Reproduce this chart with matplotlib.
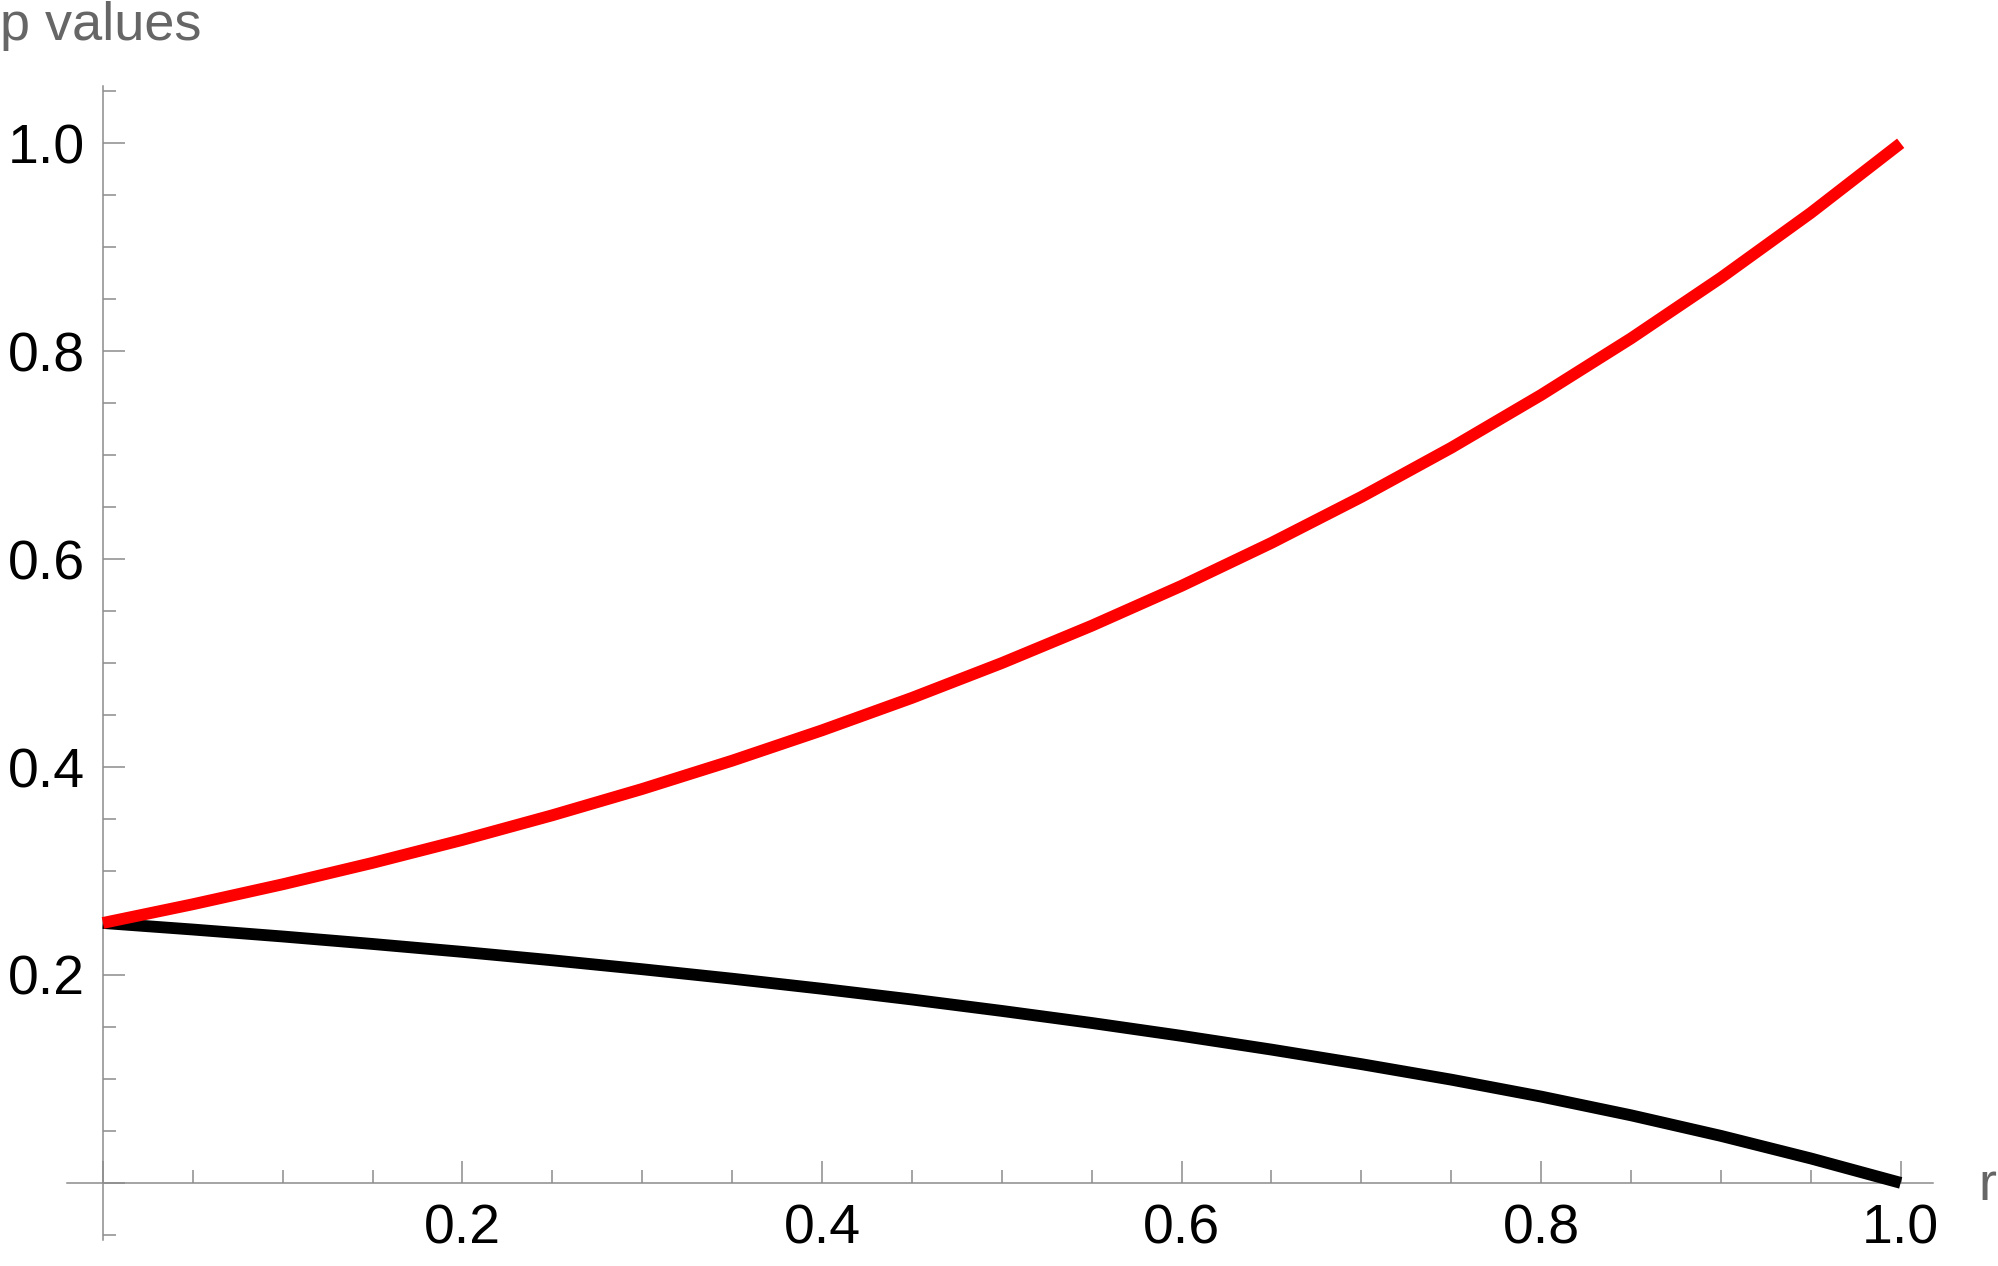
import matplotlib
matplotlib.use('Agg')
import matplotlib.pyplot as plt
from matplotlib.ticker import MultipleLocator, FixedLocator

plt.rcParams['font.family'] = ['Liberation Sans', 'DejaVu Sans']

# values
r_vals = [0.00, 0.05, 0.10, 0.15, 0.20, 0.25, 0.30, 0.35, 0.40, 0.45, 0.50,
          0.55, 0.60, 0.65, 0.70, 0.75, 0.80, 0.85, 0.90, 0.95, 1.00]
p_upper = [0.2500, 0.2680, 0.2872, 0.3078, 0.3299, 0.3536, 0.3789, 0.4061, 0.4353, 0.4665, 0.5000,
           0.5359, 0.5743, 0.6156, 0.6598, 0.7071, 0.7579, 0.8123, 0.8706, 0.9330, 1.0000]
p_lower = [0.2500, 0.2437, 0.2370, 0.2298, 0.2222, 0.2141, 0.2055, 0.1964, 0.1867, 0.1764, 0.1654,
           0.1538, 0.1414, 0.1282, 0.1142, 0.0993, 0.0830, 0.0650, 0.0452, 0.0235, 0.0000]

x_ticks = [0.2, 0.4, 0.6, 0.8, 1.0]
y_ticks = [0.2, 0.4, 0.6, 0.8, 1.0]

axis_grey = '#8c8c8c'
label_grey = '#666666'

fig = plt.figure(figsize=(19.99, 12.66), dpi=100)
ax = fig.add_axes([0.0335, 0.0205, 0.9335, 0.9115])

ax.plot(r_vals, p_lower, color='black', lw=8.5, solid_capstyle='butt',
        solid_joinstyle='round', zorder=3)
ax.plot(r_vals, p_upper, color='#ff0000', lw=8.5, solid_capstyle='butt',
        solid_joinstyle='round', zorder=4)

ax.set_xlim(-0.02, 1.018)
ax.set_ylim(-0.055, 1.055)

ax.spines['left'].set_position(('data', 0))
ax.spines['bottom'].set_position(('data', 0))
ax.spines['top'].set_visible(False)
ax.spines['right'].set_visible(False)
for s in ('left', 'bottom'):
    ax.spines[s].set_color(axis_grey)
    ax.spines[s].set_linewidth(1.1)

ax.xaxis.set_major_locator(FixedLocator([0.0] + x_ticks))
ax.xaxis.set_minor_locator(MultipleLocator(0.05))
ax.yaxis.set_major_locator(FixedLocator([0.0] + y_ticks))
ax.yaxis.set_minor_locator(MultipleLocator(0.05))
ax.set_xticklabels([''] + [f'{v:.1f}' for v in x_ticks])
ax.set_yticklabels([''] + [f'{v:.1f}' for v in y_ticks])

ax.tick_params(which='both', direction='in', color=axis_grey, width=1.1, labelsize=40,
               labelcolor='black')
ax.tick_params(which='major', length=16)
ax.tick_params(which='minor', length=9.5)
ax.tick_params(axis='x', which='major', pad=15)
ax.tick_params(axis='y', which='major', pad=13)

fig.text(0.0, 1 - 40 / 1266, 'p values', fontsize=39, color=label_grey,
         ha='left', va='baseline')
fig.text(1978 / 1999, 1 - 1200 / 1266, 'r', fontsize=39, color=label_grey,
         ha='left', va='baseline')

fig.savefig('out.png', dpi=100, facecolor='white')
